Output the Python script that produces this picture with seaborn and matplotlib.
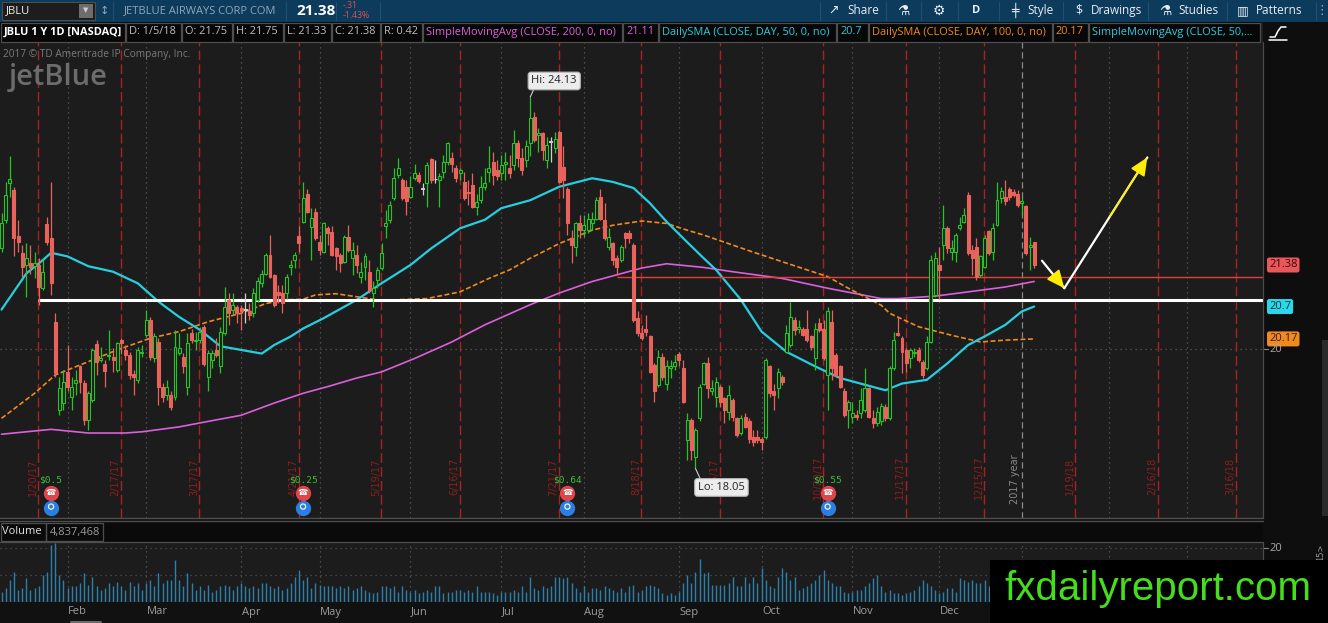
import numpy as np
import pandas as pd
import matplotlib
matplotlib.use("Agg")
import matplotlib.pyplot as plt
import matplotlib.transforms as mtransforms
import seaborn as sns
from matplotlib.patches import Rectangle

# ---------------- values ----------------
first_session = "2017-01-09"
market_holidays = ["2017-01-16", "2017-02-20", "2017-04-14", "2017-05-29", "2017-07-04",
                   "2017-09-04", "2017-11-23", "2017-12-25", "2018-01-01", "2018-01-15",
                   "2018-02-19", "2018-03-30"]

# daily OHLC, JBLU, 2017-01-09 .. 2018-01-05 (one row per month)
opens = [
    21.65, 22.12, 22.73, 22.61, 21.85, 21.58, 21.38, 21.41, 21.36, 21.38, 21.00, 22.05, 21.82, 20.45, 19.01, 19.12,
    19.63, 19.22, 19.45, 19.72, 19.45, 18.84, 19.17, 20.09, 19.83, 19.76, 19.89, 19.88, 19.66, 20.15, 19.99, 19.91, 19.60, 19.50, 19.94,
    20.23, 20.48, 19.86, 20.12, 19.39, 19.25, 19.25, 19.22, 19.94, 19.88, 19.39, 20.26, 20.13, 20.15, 20.37, 19.55, 19.83, 19.99, 19.72, 20.26, 20.81, 20.64, 20.70,
    20.68, 20.64, 20.62, 20.59, 20.81, 21.08, 21.24, 21.54, 21.21, 20.93, 20.92, 20.92, 21.35, 21.46, 21.85, 22.09, 22.55, 22.00, 22.24,
    21.76, 21.60, 21.98, 21.92, 21.65, 21.54, 21.43, 21.84, 21.50, 21.54, 21.19, 21.35, 21.27, 20.92, 21.13, 21.33, 22.01, 22.12, 22.47, 22.86, 22.77, 22.66,
    22.50, 22.80, 22.86, 22.63, 22.72, 23.11, 22.78, 22.77, 22.91, 23.07, 23.13, 22.97, 22.88, 22.74, 22.58, 22.69, 22.33, 22.44, 22.66, 22.91, 23.07, 22.93,
    22.88, 23.04, 22.97, 23.02, 23.37, 23.13, 23.10, 23.37, 23.81, 23.51, 23.54, 23.10, 23.40, 23.29, 23.56, 22.99, 22.63, 21.82, 21.68, 22.06,
    21.95, 21.95, 22.06, 22.14, 22.50, 22.12, 21.68, 21.74, 21.49, 21.46, 21.90, 21.90, 21.71, 20.51, 20.26, 20.33, 20.21, 19.74, 19.42, 19.88, 19.44, 19.69, 19.72,
    19.93, 19.69, 18.52, 18.84, 18.24, 18.87, 19.44, 19.77, 19.31, 19.22, 19.39, 19.20, 18.98, 19.17, 18.87, 18.63, 18.90, 18.82, 18.57, 18.57,
    18.54, 18.57, 19.72, 19.31, 19.36, 19.55, 19.96, 20.07, 20.48, 20.34, 20.34, 20.34, 20.21, 19.86, 20.43, 20.34, 19.58, 20.45, 19.91, 19.72, 19.31, 19.01,
    18.90, 18.93, 18.95, 19.01, 19.36, 18.87, 18.79, 18.83, 19.06, 18.87, 19.69, 20.26, 20.18, 19.99, 19.86, 19.94, 19.99, 19.80, 19.69, 20.12, 20.89,
    21.38, 21.71, 21.98, 21.60, 21.60, 21.98, 22.09, 22.52, 21.62, 21.68, 21.22, 21.35, 21.93, 21.60, 22.04, 22.47, 22.50, 22.62, 22.58, 22.55,
    22.39, 22.34, 21.68, 21.75,
]
highs = [
    22.23, 22.74, 23.16, 22.66, 22.12, 21.71, 21.74, 21.71, 21.60, 21.49, 21.46, 22.17, 22.74, 20.59, 19.55, 19.66,
    20.07, 19.55, 19.66, 19.74, 19.50, 19.31, 20.02, 20.15, 20.04, 19.83, 20.32, 20.02, 20.12, 20.18, 20.07, 19.96, 19.66, 20.04, 20.07,
    20.64, 20.53, 20.26, 20.18, 19.45, 19.50, 19.31, 20.32, 20.26, 19.94, 20.26, 20.34, 20.29, 20.37, 20.40, 19.99, 19.99, 20.18, 20.37, 21.02, 20.92, 20.92, 20.72,
    20.72, 20.92, 20.75, 21.00, 21.19, 21.30, 21.57, 21.87, 21.24, 21.05, 21.05, 21.24, 21.46, 21.60, 22.01, 22.74, 22.63, 22.31, 22.31,
    21.87, 22.09, 22.01, 22.01, 21.68, 21.57, 21.87, 22.04, 21.76, 21.70, 21.43, 21.57, 21.46, 21.11, 21.35, 21.74, 22.28, 22.42, 22.97, 23.13, 22.80, 22.77,
    22.83, 23.04, 22.91, 22.72, 23.07, 23.13, 23.10, 22.88, 23.18, 23.40, 23.23, 23.02, 22.97, 22.91, 22.77, 22.88, 22.55, 22.83, 22.97, 23.32, 23.23, 23.10,
    23.18, 23.23, 23.18, 23.59, 23.43, 23.29, 23.43, 24.13, 23.89, 23.62, 23.56, 23.48, 23.48, 23.56, 23.59, 23.32, 22.66, 21.95, 22.09, 22.20,
    22.20, 22.23, 22.25, 22.50, 22.63, 22.39, 21.98, 21.76, 21.54, 21.71, 21.92, 21.95, 21.74, 20.62, 20.40, 20.56, 20.23, 19.77, 19.99, 19.94, 19.83, 19.83, 19.91,
    19.96, 19.83, 18.95, 18.87, 18.71, 19.44, 19.80, 19.88, 19.50, 19.55, 19.42, 19.22, 19.42, 19.20, 18.90, 18.92, 18.95, 18.87, 18.68, 18.68,
    18.57, 19.85, 19.74, 19.44, 19.69, 19.58, 20.40, 20.78, 20.53, 20.48, 20.37, 20.64, 20.23, 20.43, 20.51, 20.48, 20.70, 20.64, 19.94, 19.74, 19.36, 19.17,
    19.14, 19.01, 19.36, 19.69, 19.39, 19.01, 19.06, 19.12, 19.10, 19.72, 20.29, 20.53, 20.21, 20.02, 20.02, 20.02, 20.04, 19.83, 20.21, 21.54, 21.60,
    21.68, 22.36, 22.01, 21.79, 21.90, 22.17, 22.31, 22.58, 21.71, 21.82, 21.54, 21.87, 21.95, 22.06, 22.74, 22.66, 22.77, 22.66, 22.63, 22.61,
    22.50, 22.36, 21.84, 21.75,
]
lows = [
    21.60, 22.06, 22.50, 21.52, 21.60, 21.19, 20.86, 21.24, 21.16, 20.73, 20.97, 21.71, 20.89, 19.55, 18.92, 19.01,
    19.31, 19.01, 19.25, 19.28, 18.76, 18.68, 19.14, 19.58, 19.80, 19.39, 19.83, 19.63, 19.63, 19.93, 19.83, 19.52, 19.25, 19.45, 19.88,
    20.20, 19.83, 19.80, 19.09, 19.14, 19.17, 19.01, 19.17, 19.91, 19.61, 19.25, 20.10, 19.99, 20.10, 19.72, 19.31, 19.69, 19.88, 19.61, 20.23, 20.40, 20.56, 20.43,
    20.32, 20.43, 20.48, 20.53, 20.78, 21.02, 21.22, 21.16, 20.70, 20.75, 20.59, 20.83, 21.22, 21.33, 21.60, 22.06, 22.23, 21.46, 21.79,
    21.54, 21.57, 21.71, 21.52, 21.30, 21.27, 21.41, 21.60, 21.22, 21.25, 21.08, 21.13, 20.92, 20.70, 21.00, 21.30, 21.82, 22.06, 22.44, 22.80, 22.44, 22.20,
    22.47, 22.77, 22.72, 22.53, 22.33, 22.72, 22.72, 22.33, 22.80, 23.02, 22.91, 22.74, 22.77, 22.44, 22.36, 22.31, 22.20, 22.39, 22.61, 22.74, 22.69, 22.77,
    22.77, 22.77, 22.80, 22.94, 22.99, 22.85, 22.99, 23.16, 23.40, 23.23, 23.10, 22.96, 23.07, 23.21, 22.72, 22.47, 21.87, 21.41, 21.52, 21.82,
    21.84, 21.90, 21.95, 22.12, 22.12, 21.79, 21.63, 21.38, 21.22, 21.43, 21.65, 21.74, 20.45, 20.21, 20.15, 20.21, 19.61, 19.14, 19.39, 19.50, 19.33, 19.53, 19.66,
    19.72, 19.12, 18.19, 18.19, 18.05, 18.82, 19.42, 19.20, 19.25, 19.06, 19.06, 18.79, 18.84, 18.82, 18.57, 18.60, 18.71, 18.46, 18.41, 18.46,
    18.35, 18.54, 19.22, 19.01, 19.20, 19.42, 19.94, 20.04, 20.23, 20.26, 20.21, 20.12, 19.99, 19.66, 20.29, 19.83, 19.01, 19.50, 19.55, 19.36, 18.90, 18.71,
    18.79, 18.84, 18.87, 18.98, 18.87, 18.71, 18.74, 18.76, 18.82, 18.84, 19.66, 20.21, 19.61, 19.63, 19.69, 19.88, 19.80, 19.53, 19.66, 20.10, 20.86,
    20.83, 21.46, 21.57, 21.46, 21.43, 21.95, 22.06, 21.54, 21.22, 21.13, 21.19, 21.33, 21.54, 21.46, 22.01, 22.39, 22.36, 22.44, 22.50, 22.33,
    22.20, 21.54, 21.30, 21.33,
]
closes = [
    22.06, 22.53, 22.78, 21.82, 21.76, 21.35, 21.50, 21.35, 21.41, 21.02, 21.27, 21.76, 21.08, 19.61, 19.37, 19.47,
    19.39, 19.39, 19.50, 19.47, 18.84, 19.29, 19.99, 19.80, 19.86, 19.65, 19.91, 19.83, 20.11, 20.10, 19.91, 19.58, 19.55, 19.99, 19.96,
    20.48, 19.88, 20.21, 19.39, 19.22, 19.39, 19.06, 20.04, 20.02, 19.72, 20.10, 20.15, 20.16, 20.29, 19.76, 19.94, 19.94, 19.91, 20.29, 20.70, 20.59, 20.72, 20.59,
    20.62, 20.64, 20.56, 20.92, 21.11, 21.24, 21.54, 21.19, 20.72, 20.89, 20.75, 21.19, 21.38, 21.54, 21.74, 22.47, 22.25, 22.15, 21.82,
    21.63, 22.07, 21.90, 21.54, 21.52, 21.41, 21.84, 21.63, 21.62, 21.38, 21.27, 21.52, 20.97, 21.00, 21.30, 21.57, 22.07, 22.36, 22.80, 22.97, 22.47, 22.42,
    22.66, 22.88, 22.75, 22.63, 23.02, 22.77, 22.78, 22.83, 23.07, 23.37, 23.04, 22.80, 22.93, 22.47, 22.56, 22.33, 22.41, 22.66, 22.72, 22.97, 22.86, 22.83,
    23.02, 23.07, 22.88, 23.37, 23.13, 22.94, 23.32, 23.78, 23.43, 23.54, 23.26, 23.34, 23.40, 23.45, 22.74, 22.77, 22.06, 21.71, 22.06, 21.95,
    22.03, 22.14, 22.14, 22.44, 22.14, 21.82, 21.84, 21.46, 21.35, 21.68, 21.82, 21.82, 20.48, 20.26, 20.18, 20.29, 19.63, 19.31, 19.88, 19.55, 19.72, 19.72, 19.80,
    19.83, 19.14, 18.84, 18.35, 18.68, 19.39, 19.77, 19.36, 19.36, 19.47, 19.14, 19.01, 19.25, 18.90, 18.60, 18.87, 18.73, 18.54, 18.49, 18.52,
    18.49, 19.83, 19.28, 19.25, 19.63, 19.47, 20.26, 20.53, 20.32, 20.37, 20.23, 20.15, 20.04, 20.34, 20.32, 19.86, 20.62, 19.69, 19.58, 19.39, 18.92, 19.14,
    18.95, 18.90, 19.17, 19.36, 18.90, 18.79, 18.98, 19.08, 18.87, 19.69, 20.15, 20.23, 19.96, 19.77, 19.99, 19.96, 19.83, 19.58, 20.12, 21.46, 21.49,
    21.30, 21.98, 21.66, 21.66, 21.87, 22.04, 22.20, 21.57, 21.49, 21.19, 21.52, 21.82, 21.57, 21.98, 22.44, 22.59, 22.42, 22.50, 22.53, 22.36,
    22.42, 21.57, 21.71, 21.38,
]
# daily volume in millions of shares
volume_m = [
    3.8, 5.0, 8.2, 11.3, 4.4, 5.0, 8.8, 4.4, 5.0, 5.7, 10.1, 11.3, 21.4, 22.0, 10.1, 8.2, 5.0, 5.7, 5.7, 6.9,
    10.7, 6.3, 9.4, 5.7, 4.4, 5.0, 6.9, 5.7, 7.5, 5.7, 4.4, 7.5, 5.7, 6.9, 4.4, 6.9, 8.2, 5.7, 10.7, 6.9,
    8.2, 8.2, 15.5, 8.2, 5.7, 10.7, 6.9, 4.4, 5.7, 4.4, 6.3, 3.8, 4.4, 5.7, 6.3, 5.7, 4.4, 5.7, 6.9, 5.7,
    5.0, 5.7, 5.0, 6.9, 6.9, 5.7, 5.0, 5.7, 4.4, 5.0, 6.9, 9.4, 11.9, 8.2, 9.4, 5.0, 6.9, 6.3, 5.7, 5.7,
    5.7, 5.0, 5.7, 5.0, 5.7, 4.4, 5.0, 5.7, 4.4, 3.8, 3.1, 3.8, 5.7, 5.7, 5.0, 5.7, 3.8, 5.7, 4.4, 3.8,
    4.4, 3.1, 3.8, 4.4, 3.8, 5.7, 5.7, 3.1, 3.8, 3.8, 4.4, 4.4, 3.8, 4.4, 3.8, 5.7, 3.8, 3.8, 3.8, 3.1,
    2.5, 3.8, 3.8, 3.8, 4.4, 3.8, 5.7, 3.8, 9.4, 5.0, 4.4, 5.7, 5.0, 5.7, 9.4, 9.4, 8.8, 9.4, 6.9, 5.0,
    3.8, 5.7, 3.8, 5.0, 5.0, 4.4, 5.7, 5.0, 4.4, 3.8, 5.0, 3.8, 5.7, 6.3, 3.8, 4.4, 5.7, 6.3, 5.7, 5.0,
    3.1, 2.5, 3.1, 2.5, 3.8, 6.9, 10.1, 6.9, 11.3, 16.0, 10.7, 11.3, 6.3, 6.3, 6.3, 6.3, 6.9, 9.4, 5.7, 5.7,
    9.4, 6.9, 9.4, 6.9, 12.6, 8.2, 5.7, 5.0, 9.4, 12.6, 11.3, 8.2, 9.4, 4.4, 5.0, 5.7, 6.9, 8.2, 10.1, 11.9,
    8.2, 6.9, 5.7, 5.7, 3.8, 3.1, 3.8, 4.4, 4.4, 5.7, 6.9, 8.8, 10.1, 5.7, 3.8, 4.4, 3.1, 3.1, 2.5, 3.1,
    3.8, 4.4, 5.7, 8.2, 6.9, 5.7, 4.4, 3.1, 3.8, 5.0, 5.0, 3.8, 8.8, 8.2, 7.5, 8.2, 6.9, 6.9, 8.2, 5.7,
    5.0, 4.4, 5.7, 3.8, 3.1, 2.5, 4.4, 6.3, 5.7, 5.0, 4.84,
]
last_volume = "4,837,468"

# moving averages, sampled (trading days after 2017-01-09, value)
sma200_days = [0, 12, 21, 30, 34, 43, 50, 58, 66, 73, 79, 86, 92, 100, 109, 117, 128, 135, 143, 149,
               155, 161, 170, 177, 189, 200, 213, 217, 226, 234, 243, 250]
sma200_vals = [18.61, 18.69, 18.63, 18.63, 18.65, 18.73, 18.82, 18.92, 19.12, 19.28, 19.39, 19.53, 19.63,
               19.85, 20.12, 20.40, 20.73, 20.92, 21.11, 21.22, 21.33, 21.40, 21.34, 21.27, 21.16, 21.00,
               20.83, 20.83, 20.87, 20.94, 21.02, 21.11]
sma50_days = [0, 6, 10, 12, 16, 21, 27, 33, 38, 43, 48, 53, 58, 63, 66, 70, 73, 78, 86, 92, 99, 104, 111,
              117, 121, 128, 135, 143, 148, 153, 157, 161, 165, 170, 173, 179, 184, 190, 197, 203, 209,
              214, 218, 224, 229, 234, 238, 243, 247, 250]
sma50_vals = [20.65, 21.24, 21.46, 21.58, 21.52, 21.36, 21.27, 21.08, 20.78, 20.53, 20.32, 20.05, 19.99,
              19.93, 20.07, 20.21, 20.34, 20.51, 20.81, 21.08, 21.38, 21.65, 21.98, 22.12, 22.31, 22.44,
              22.66, 22.80, 22.74, 22.64, 22.39, 22.09, 21.82, 21.49, 21.30, 20.81, 20.29, 19.96, 19.72,
              19.53, 19.42, 19.33, 19.44, 19.50, 19.77, 20.07, 20.21, 20.40, 20.62, 20.70]
sma100_days = [0, 8, 13, 20, 28, 36, 43, 50, 58, 64, 69, 73, 76, 81, 86, 92, 103, 111, 118, 123, 128,
               135, 143, 148, 155, 161, 166, 170, 182, 195, 200, 205, 213, 215, 222, 230, 237, 243, 250]
sma100_vals = [18.87, 19.28, 19.58, 19.77, 19.99, 20.18, 20.29, 20.45, 20.59, 20.75, 20.81, 20.82, 20.89,
               20.91, 20.86, 20.80, 20.83, 20.94, 21.16, 21.30, 21.49, 21.73, 21.95, 22.03, 22.10, 22.06,
               21.95, 21.87, 21.59, 21.30, 21.19, 21.00, 20.72, 20.59, 20.37, 20.23, 20.12, 20.15, 20.17]

expiry_dates = ["2017-01-20", "2017-02-17", "2017-03-17", "2017-04-21", "2017-05-19", "2017-06-16",
                "2017-07-21", "2017-08-18", "2017-09-15", "2017-10-20", "2017-11-17", "2017-12-15",
                "2018-01-19", "2018-02-16", "2018-03-16"]
expiry_labels = ["1/20/17", "2/17/17", "3/17/17", "4/21/17", "5/19/17", "6/16/17", "7/21/17", "8/18/17",
                 "9/15/17", "10/20/17", "11/17/17", "12/15/17", "1/19/18", "2/16/18", "3/16/18"]
earnings_dates = ["2017-01-26", "2017-04-25", "2017-07-26", "2017-10-24"]
earnings_labels = ["$0.5", "$0.25", "$0.64", "$0.55"]
month_names = ["Feb", "Mar", "Apr", "May", "Jun", "Jul", "Aug", "Sep", "Oct", "Nov", "Dec",
               "Jan", "Feb", "Mar"]

# lines drawn by hand on the chart
support_level = 20.80
support_from = "2017-01-20"
red_level = 21.19
red_from = "2017-08-11"
arrow_down = ((251.9, 21.45), (257.3, 21.00))
arrow_up = ((257.3, 21.00), (277.4, 23.14))

# ---------------- colours ----------------
BG = "#1c1c1c"
UP = "#27c427"
DOWN = "#ea625c"
FLAT = "#cfcfcf"
MAGENTA = "#dc5fdc"
CYAN = "#26cfe0"
ORANGE = "#ee8a1e"

sns.set_theme(style="dark")
plt.rcParams["font.family"] = ["Open Sans", "DejaVu Sans"]

sessions = pd.bdate_range(first_session, "2018-04-30")
sessions = sessions[~sessions.isin(pd.to_datetime(market_holidays))]
day_of = {d: i for i, d in enumerate(sessions)}


def day_index(s):
    return day_of[pd.Timestamp(s)]


month_starts = []
for i, d in enumerate(sessions):
    if i > 0 and d.month != sessions[i - 1].month:
        month_starts.append(i)

W, H = 1328, 623
fig = plt.figure(figsize=(W / 100, H / 100), dpi=100, facecolor="#0e0e0e")


def px_rect(left, top, right, bottom):
    return [left / W, 1 - bottom / H, (right - left) / W, (bottom - top) / H]


ax = fig.add_axes(px_rect(0, 22, 1263, 518))
axv = fig.add_axes(px_rect(0, 542, 1263, 601.7))
XMIN, XMAX = -0.368, 305.4
for a in (ax, axv):
    a.set_facecolor(BG)
    for s in a.spines.values():
        s.set_visible(False)
    a.grid(False)

dot = (0, (1, 3))
for m in month_starts[:14]:
    if sessions[m].year == 2018 and sessions[m].month == 1:
        ax.axvline(m, color="#8a8a8a", lw=0.9, ls=(0, (5, 3)), zorder=1)
    else:
        ax.axvline(m, color="#5a5a5a", lw=0.9, ls=dot, zorder=1)
    axv.axvline(m, color="#5a5a5a", lw=0.9, ls=dot, zorder=1)
ax.axhline(20, color="#5a5a5a", lw=0.9, ls=dot, zorder=1)

blend = mtransforms.blended_transform_factory(ax.transData, ax.transAxes)
for d, lab in zip(expiry_dates, expiry_labels):
    xd = day_index(d) + 0.9
    ax.axvline(xd, color="#a82222", lw=1.0, ls=(0, (7, 3)), zorder=1)
    ax.text(xd - 1.3, 0.083, lab, transform=blend, rotation=90, ha="center", va="center",
            color="#8e1d1d", fontsize=7, family="DejaVu Sans")
jan2 = [m for m in month_starts if sessions[m].year == 2018][0]
ax.text(jan2 - 1.7, 0.078, "2017 year", transform=blend, rotation=90, ha="center", va="center",
        color="#8a8a8a", fontsize=7, family="DejaVu Sans")

# drawn lines
ax.hlines(support_level, day_index(support_from) + 0.9, XMAX, color="white", lw=2.2, zorder=5)
ax.hlines(red_level, day_index(red_from), XMAX, color="#e0403a", lw=1.0, zorder=5)

# moving averages
sns.lineplot(x=sma200_days, y=sma200_vals, ax=ax, color=MAGENTA, lw=1.2, zorder=4, legend=False)
sns.lineplot(x=sma100_days, y=sma100_vals, ax=ax, color=ORANGE, lw=1.2, zorder=4, legend=False,
             linestyle=(0, (3, 1.5)))
sns.lineplot(x=sma50_days, y=sma50_vals, ax=ax, color=CYAN, lw=1.6, zorder=4, legend=False)

# candles
o = np.array(opens)
c = np.array(closes)
hi = np.array(highs)
lo = np.array(lows)
pos = np.arange(len(c))
cols = np.where(c > o, UP, np.where(c < o, DOWN, FLAT))
faces = np.where(c > o, BG, cols)
ax.vlines(pos, lo, hi, colors=cols, lw=0.9, zorder=6)
ax.bar(pos, np.maximum(np.abs(c - o), 0.012), bottom=np.minimum(o, c), width=0.72, color=faces,
       edgecolor=cols, linewidth=0.8, zorder=7)

# Hi / Lo bubbles
i_hi = int(np.argmax(hi))
i_lo = int(np.argmin(lo))
bub = dict(boxstyle="round,pad=0.3,rounding_size=0.25", fc="#ececec", ec="#b5b5b5", lw=0.8)
ax.annotate(f"Hi: {hi[i_hi]:.2f}", xy=(i_hi, hi[i_hi]), xytext=(24, 16), textcoords="offset pixels",
            ha="center", va="center", fontsize=8, color="#222222", bbox=bub, zorder=9,
            arrowprops=dict(arrowstyle="-", color="#d0d0d0", lw=0.8, relpos=(0.08, 0.0),
                            shrinkA=0, shrinkB=0))
ax.annotate(f"Lo: {lo[i_lo]:.2f}", xy=(i_lo, lo[i_lo]), xytext=(26, -19), textcoords="offset pixels",
            ha="center", va="center", fontsize=8, color="#222222", bbox=bub, zorder=9,
            arrowprops=dict(arrowstyle="-", color="#d0d0d0", lw=0.8, relpos=(0.08, 1.0),
                            shrinkA=0, shrinkB=0))

# earnings markers
for d, lab in zip(earnings_dates, earnings_labels):
    xd = day_index(d)
    ax.text(xd, 0.0766, lab, transform=blend, ha="center", va="center", color="#3cbd3c",
            fontsize=6.8, family="DejaVu Sans Mono", zorder=8)
    ax.scatter([xd], [0.051], transform=blend, s=100, color="#e0454a", zorder=8, clip_on=False)
    ax.text(xd, 0.051, "\u260e", transform=blend, ha="center", va="center", color="white",
            fontsize=6, family="DejaVu Sans", zorder=9)
    ax.scatter([xd], [0.0196], transform=blend, s=100, color="#2c7ee0", zorder=8, clip_on=False)
    ax.scatter([xd], [0.023], transform=blend, s=14, facecolor="none", edgecolor="white", lw=0.8,
               zorder=9, clip_on=False)

# arrows
for (x0, y0), (x1, y1) in (arrow_down, arrow_up):
    ax.plot([x0, x1], [y0, y1], color="white", lw=1.6, zorder=8, solid_capstyle="round")
    ax.annotate("", xy=(x1, y1), xytext=(x0 + (x1 - x0) * 0.55, y0 + (y1 - y0) * 0.55),
                arrowprops=dict(arrowstyle="-|>,head_length=1.0,head_width=0.45", fc="#ffee00",
                                ec="#ffee00", lw=1.2, mutation_scale=11, shrinkA=0, shrinkB=0),
                zorder=9)

# right axis labels
def price_tag(a, value, text, fc, tc):
    a.annotate(text, xy=(1, value), xycoords=("axes fraction", "data"), xytext=(6, 0),
               textcoords="offset pixels", ha="left", va="center", fontsize=8, color=tc,
               annotation_clip=False,
               bbox=None if fc is None else dict(boxstyle="round,pad=0.18,rounding_size=0.2",
                                                 fc=fc, ec="none"))


price_tag(ax, closes[-1], f"{closes[-1]:.2f}", "#e8585a", "#3a0606")
price_tag(ax, sma50_vals[-1], f"{sma50_vals[-1]:g}", "#2ad8ea", "#00343c")
price_tag(ax, sma100_vals[-1], f"{sma100_vals[-1]:.2f}", "#f08a1c", "#3a1a00")
price_tag(ax, 20, "20", None, "#a8a8a8")
ax.plot([1, 1.004], [20, 20], transform=mtransforms.blended_transform_factory(ax.transAxes, ax.transData),
        color="#8a8a8a", lw=0.8, clip_on=False)

# volume
axv.vlines(pos, 0, volume_m, colors="#2b80ab", lw=1.0, zorder=3)
for lvl in (10, 20):
    axv.axhline(lvl, color="#505050", lw=0.9, ls=dot, zorder=1)
price_tag(axv, 20, "20", None, "#a8a8a8")
axv.plot([1, 1.004], [20, 20], transform=mtransforms.blended_transform_factory(axv.transAxes, axv.transData),
         color="#8a8a8a", lw=0.8, clip_on=False)

ax.set_xlim(XMIN, XMAX)
ax.set_ylim(17.239, 25.357)
axv.set_xlim(XMIN, XMAX)
axv.set_ylim(0, 22.36)
for a in (ax, axv):
    a.set_xticks([])
    a.set_yticks([])
    a.set_xlabel("")
    a.set_ylabel("")

# ---------------- chrome (pixel coordinates) ----------------
top = fig.add_axes([0, 0, 1, 1], zorder=10)
top.set_xlim(0, W)
top.set_ylim(H, 0)
top.axis("off")
top.patch.set_alpha(0)


def box(l, t, r, b, fc, ec="none", lw=0.8, z=1):
    top.add_patch(Rectangle((l, t), r - l, b - t, facecolor=fc, edgecolor=ec, lw=lw, zorder=z))


def txt(x, y, s, size=8, color="#d8d8d8", ha="left", **kw):
    top.text(x, y, s, fontsize=size, color=color, ha=ha, va="center", **kw)


# toolbar
box(0, 0, W, 21.5, "#0d3b5c")
box(2, 2, 95, 19.5, "#1d1d1d", "#4e4e4e")
box(79, 3.5, 93, 18, "#6d6d6d")
txt(86, 10.5, "\u25bc", 5, "#d0d0d0", ha="center", family="DejaVu Sans")
txt(6, 11, "JBLU", 8, "#f0f0f0")
txt(100, 10.5, "\u2195", 8, "#9aa8b4", family="DejaVu Sans")
for sx in (113, 286, 336, 380, 820, 886, 921, 958, 999, 1063, 1148, 1227, 1316):
    top.plot([sx, sx], [2, 20], color="#1f5070", lw=0.8)
txt(124, 10.5, "JETBLUE AIRWAYS CORP COM", 8, "#8ea6bb")
txt(296, 11, f"{closes[-1]:.2f}", 11, "#ffffff", weight="bold")
txt(343, 6, "-.31", 6.3, "#e0504d")
txt(343, 15.5, "-1.43%", 6.3, "#e0504d")
txt(828, 10.5, "\u2197", 9, "#e8eef4", family="DejaVu Sans")
txt(847, 10.5, "Share", 8.5, "#e8eef4")
txt(903, 10.5, "\u2697", 10, "#e8eef4", ha="center", family="DejaVu Sans")
txt(939, 10.5, "\u2699", 10, "#e8eef4", ha="center", family="DejaVu Sans")
txt(976, 10.5, "D", 8, "#e8eef4", ha="center", weight="bold")
txt(1015, 10.5, "\u256a", 9, "#e8eef4", ha="center", family="DejaVu Sans")
txt(1027, 10.5, "Style", 8.5, "#e8eef4")
txt(1079, 10.5, "$", 9, "#e8eef4", ha="center")
txt(1091, 10.5, "Drawings", 8.5, "#e8eef4")
txt(1165, 10.5, "\u2697", 10, "#e8eef4", ha="center", family="DejaVu Sans")
txt(1178, 10.5, "Studies", 8.5, "#e8eef4")
txt(1243, 10.5, "\u25a5", 9, "#e8eef4", ha="center", family="DejaVu Sans")
txt(1256, 10.5, "Patterns", 8.5, "#e8eef4")
txt(1322, 10.5, "\u22ee", 9, "#9aa8b4", ha="center", family="DejaVu Sans")

# study header row
box(0, 22, 1261, 42, "#070707")
edges = [0, 125.4, 181.8, 232.7, 283.2, 331.6, 380.9, 422.1, 622.9, 658.7, 836.8, 868, 1052, 1088, 1260.8]
for l, r in zip(edges[:-1], edges[1:]):
    box(l + 0.5, 22.5, r - 0.5, 41.5, "none", "#4e4e4e", 0.9)
head_items = [
    ("JBLU 1 Y 1D [NASDAQ]", "#ffffff", "bold"),
    ("D: 1/5/18", "#bdbdbd", "normal"),
    (f"O: {opens[-1]:.2f}", "#bdbdbd", "normal"),
    (f"H: {highs[-1]:.2f}", "#bdbdbd", "normal"),
    (f"L: {lows[-1]:.2f}", "#bdbdbd", "normal"),
    (f"C: {closes[-1]:.2f}", "#bdbdbd", "normal"),
    ("R: 0.42", "#bdbdbd", "normal"),
    ("SimpleMovingAvg (CLOSE, 200, 0, no)", MAGENTA, "normal"),
    (f"{sma200_vals[-1]:.2f}", MAGENTA, "normal"),
    ("DailySMA (CLOSE, DAY, 50, 0, no)", CYAN, "normal"),
    (f"{sma50_vals[-1]:g}", CYAN, "normal"),
    ("DailySMA (CLOSE, DAY, 100, 0, no)", ORANGE, "normal"),
    (f"{sma100_vals[-1]:.2f}", ORANGE, "normal"),
    ("SimpleMovingAvg (CLOSE, 50,...", CYAN, "normal"),
]
for l, (s, col, wt) in zip(edges[:-1], head_items):
    txt(l + 3.5, 32, s, 7.9, col, weight=wt)
top.plot([1270, 1275, 1278, 1281, 1286], [37, 37, 31, 27, 27], color="white", lw=1.1)
top.plot([1269, 1287], [39.5, 39.5], color="white", lw=1.1)

# watermark text of the chart
txt(3, 55, "2017 \u00a9 TD Ameritrade IP Company, Inc.", 7.3, "#7a7a7a")
txt(9, 77, "jetBlue", 21, "#6c6c6c", weight="semibold")

# separators, right border
top.plot([0, 1263], [518.3, 518.3], color="#4f4f4f", lw=1.0)
top.plot([0, 1263], [520.6, 520.6], color="#4f4f4f", lw=1.0)
top.plot([1263, 1263], [42, 518], color="#4a4a4a", lw=0.9)
top.plot([1263, 1263], [542, 602], color="#4a4a4a", lw=0.9)
box(1322, 340, W, 516, "#2a2a2a")

# volume header
box(0, 521.5, 1263, 541.8, "#0a0a0a")
top.plot([0, 1263], [541.8, 541.8], color="#4f4f4f", lw=0.9)
box(0.5, 522.5, 46, 541, "none", "#4e4e4e", 0.9)
box(46, 522.5, 103, 541, "none", "#4e4e4e", 0.9)
txt(2.5, 532, "Volume", 8, "#e0e0e0")
txt(50, 532, last_volume, 8, "#9a9a9a")
txt(1316, 552, "15>", 6, "#9a9a9a", rotation=90, family="DejaVu Sans")

# month row
box(0, 602, 1263, H, "#111111")
top.plot([71, 101], [621.8, 621.8], color="#6a6a6a", lw=1.5)
for m, name in zip(month_starts[:14], month_names):
    xpx = 1.52 + (m - XMIN - 0.368) * (1263 / (XMAX - XMIN)) + 0.5
    txt(xpx, 612, name, 8, "#9c9c9c")

# site watermark, on top of everything
box(990, 560, W, H, "#000000", z=20)
top.text(1004, 589, "fxdailyreport.com", fontsize=29, color="#46dd1c", ha="left", va="center",
         family="Liberation Sans", zorder=21)

fig.savefig("out.png", dpi=100, facecolor=fig.get_facecolor())
